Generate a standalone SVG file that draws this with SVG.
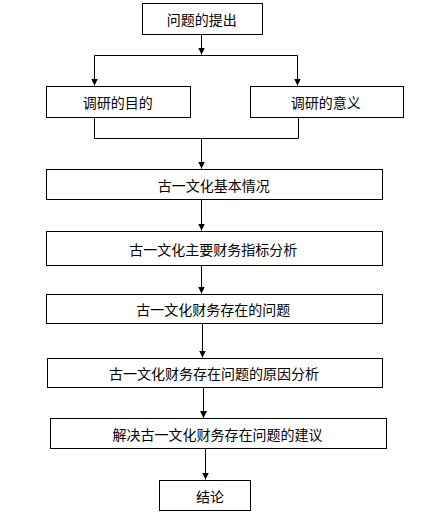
<svg xmlns="http://www.w3.org/2000/svg" width="438" height="521" viewBox="0 0 438 521">
<style>
.box{fill:#fff;stroke:#000;stroke-width:1}
.lbl{font-family:"Noto Sans CJK SC","Noto Sans CJK JP",sans-serif;font-size:14px;fill:#000;text-anchor:middle;dominant-baseline:central}
.ln{fill:none;stroke:#000;stroke-width:1}
</style>
<defs>
<marker id="ah" markerUnits="userSpaceOnUse" markerWidth="8" markerHeight="8" refX="7" refY="3.5" orient="auto">
<path d="M0,0 L7,3.5 L0,7 z" fill="#000"/>
</marker>
</defs>
<rect width="438" height="521" fill="#fff"/>
<g id="connectors">
<path class="ln" d="M201.5,34.5 V54.5" marker-end="url(#ah)"/>
<path class="ln" d="M94.5,55.5 H297.5"/>
<path class="ln" d="M94.5,55.5 V85.5" marker-end="url(#ah)"/>
<path class="ln" d="M297.5,55.5 V85.5" marker-end="url(#ah)"/>
<path class="ln" d="M94.5,117.5 V138.5 H298.5 V117.5"/>
<path class="ln" d="M201.5,138.5 V168.5" marker-end="url(#ah)"/>
<path class="ln" d="M201.5,199.5 V230.5" marker-end="url(#ah)"/>
<path class="ln" d="M201.5,265.5 V293.5" marker-end="url(#ah)"/>
<path class="ln" d="M202.5,323.5 V357.5" marker-end="url(#ah)"/>
<path class="ln" d="M203.5,387.5 V418" marker-end="url(#ah)"/>
<path class="ln" d="M205.5,448.5 V479.5" marker-end="url(#ah)"/>
</g>
<g id="n1"><rect class="box" x="142.5" y="3.5" width="120" height="31"/><text class="lbl" x="201.7" y="19">问题的提出</text></g>
<g id="n2"><rect class="box" x="46.5" y="86.5" width="144" height="31"/><text class="lbl" x="117.7" y="102">调研的目的</text></g>
<g id="n3"><rect class="box" x="250.5" y="86.5" width="153" height="31"/><text class="lbl" x="325.7" y="102">调研的意义</text></g>
<g id="n4"><rect class="box" x="46.5" y="169.5" width="336" height="30"/><text class="lbl" x="213.7" y="184.5">古一文化基本情况</text></g>
<g id="n5"><rect class="box" x="46.5" y="231.5" width="336" height="34"/><text class="lbl" x="213.3" y="248.5">古一文化主要财务指标分析</text></g>
<g id="n6"><rect class="box" x="46.5" y="294.5" width="336" height="29"/><text class="lbl" x="213.3" y="309">古一文化财务存在的问题</text></g>
<g id="n7"><rect class="box" x="47.5" y="358.5" width="335" height="29"/><text class="lbl" x="214" y="373">古一文化财务存在问题的原因分析</text></g>
<g id="n8"><rect class="box" x="50.5" y="418.5" width="336" height="30"/><text class="lbl" x="217.5" y="433.5">解决古一文化财务存在问题的建议</text></g>
<g id="n9"><rect class="box" x="159.5" y="480.5" width="91" height="30"/><text class="lbl" x="210" y="495.5">结论</text></g>
</svg>
